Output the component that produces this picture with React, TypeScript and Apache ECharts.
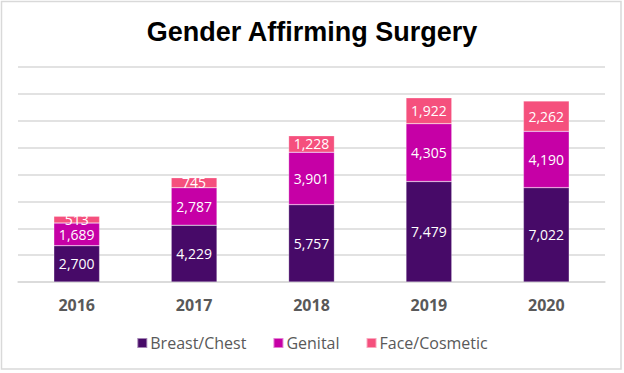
import React, { useEffect, useRef } from "react";
import * as echarts from "echarts";

const years = ["2016", "2017", "2018", "2019", "2020"];
const breastChest = [2700, 4229, 5757, 7479, 7022];
const genital = [1689, 2787, 3901, 4305, 4190];
const faceCosmetic = [513, 745, 1228, 1922, 2262];
const seriesNames = ["Breast/Chest", "Genital", "Face/Cosmetic"];
const colors = ["#470A68", "#C600A6", "#F5507D"];

export default function App() {
  const ref = useRef<HTMLDivElement>(null);
  useEffect(() => {
    if (!ref.current) return;
    const chart = echarts.init(ref.current, undefined, { renderer: "svg" });
    const data = [breastChest, genital, faceCosmetic];
    chart.setOption({
      animation: false,
      backgroundColor: "#ffffff",
      title: {
        text: "Gender Affirming Surgery",
        left: "center",
        top: 13,
        textStyle: {
          fontFamily: "Liberation Sans, Arial, sans-serif",
          fontSize: 27,
          fontWeight: "bold",
          color: "#000000",
        },
      },
      graphic: [
        {
          type: "rect",
          shape: { x: 1.5, y: 1.5, width: 619.5, height: 367.5 },
          style: { fill: "none", stroke: "#d9d9d9", lineWidth: 1.5 },
          silent: true,
        },
      ],
      legend: {
        data: seriesNames,
        bottom: 17,
        left: "center",
        itemWidth: 10,
        itemHeight: 10,
        itemGap: 26,
        icon: "rect",
        textStyle: {
          fontFamily: "Open Sans, Noto Sans, sans-serif",
          fontSize: 16,
          color: "#595959",
          padding: [0, 0, 0, -2],
        },
      },
      grid: { left: 18, right: 19, top: 67, bottom: 91 },
      xAxis: {
        type: "category",
        data: years,
        axisTick: { show: false },
        axisLine: { lineStyle: { color: "#d9d9d9", width: 1.5 } },
        axisLabel: {
          margin: 15,
          fontFamily: "Open Sans, Noto Sans, sans-serif",
          fontSize: 16,
          fontWeight: "bold",
          color: "#595959",
        },
      },
      yAxis: {
        type: "value",
        min: 0,
        max: 16000,
        interval: 2000,
        axisLabel: { show: false },
        axisLine: { show: false },
        axisTick: { show: false },
        splitLine: { lineStyle: { color: "#d9d9d9", width: 1.5 } },
      },
      series: seriesNames.map((name, i) => ({
        name,
        type: "bar",
        stack: "total",
        barWidth: "39%",
        data: data[i],
        itemStyle: { color: colors[i], borderColor: "rgba(255,255,255,0.5)", borderWidth: 0.5 },
        label: {
          show: true,
          position: "inside",
          color: "#ffffff",
          fontFamily: "Open Sans, Noto Sans, sans-serif",
          fontSize: 14,
          formatter: (p: any) => Number(p.value).toLocaleString("en-US"),
        },
      })),
    });
    return () => chart.dispose();
  }, []);
  return (
    <div
      ref={ref}
      style={{ position: "fixed", left: 0, top: 0, width: 624, height: 373 }}
    />
  );
}
